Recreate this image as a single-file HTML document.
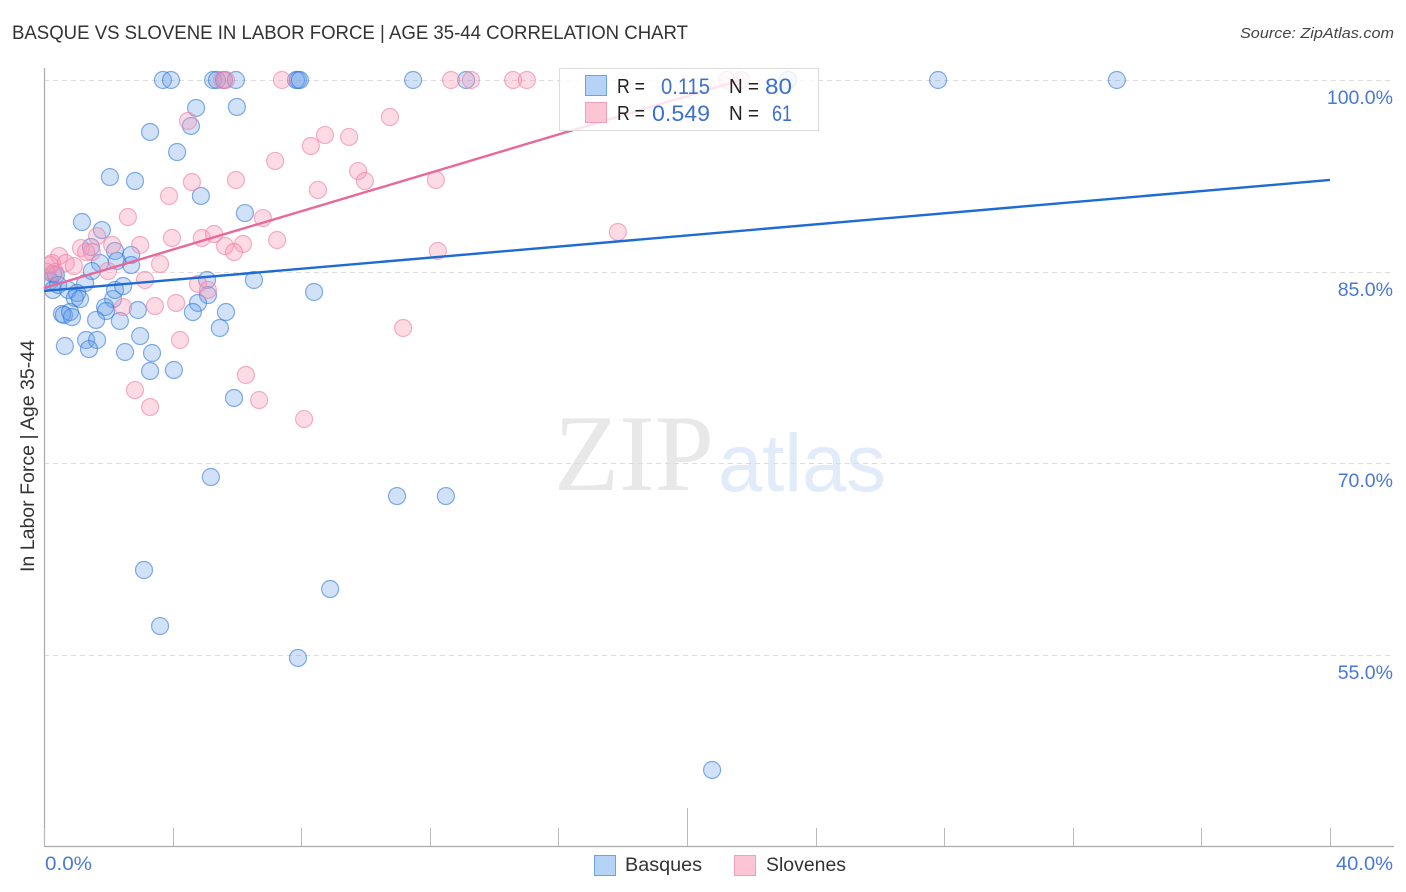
<!DOCTYPE html>
<html lang="en">
<head>
<meta charset="utf-8">
<title>Basque vs Slovene in Labor Force | Age 35-44 Correlation Chart</title>
<style>
html,body{margin:0;padding:0;background:#fff;}
body{width:1406px;height:892px;overflow:hidden;}
svg{display:block;font-family:"Liberation Sans",sans-serif;}
</style>
</head>
<body>
<svg id="chart" width="1406" height="892" viewBox="0 0 1406 892" xmlns="http://www.w3.org/2000/svg">
  <defs>
    <clipPath id="plot-clip"><rect x="45" y="60" width="1350" height="786"/></clipPath>
    <filter id="soften" x="-5%" y="-5%" width="110%" height="110%"><feGaussianBlur stdDeviation="0.35"/></filter>
  </defs>
  <rect x="0" y="0" width="1406" height="892" fill="#fff"/>
  <text x="12" y="39" font-size="19" fill="#333" textLength="676" lengthAdjust="spacingAndGlyphs">BASQUE VS SLOVENE IN LABOR FORCE | AGE 35-44 CORRELATION CHART</text>
  <text x="1394" y="38" font-size="15" font-style="italic" fill="#444" text-anchor="end" textLength="154" lengthAdjust="spacingAndGlyphs">Source: ZipAtlas.com</text>
  <g>
    <text x="554" y="490" font-size="109" fill="#e8e8e8" font-family="'Liberation Serif',serif" textLength="160" lengthAdjust="spacingAndGlyphs">ZIP</text>
    <text x="718" y="491" font-size="82" fill="#e2ebf9" font-family="'Liberation Sans',sans-serif" textLength="168" lengthAdjust="spacingAndGlyphs">atlas</text>
  </g>
  <g id="grid"></g>
  <g id="axes"></g>
  <g id="series-basques" clip-path="url(#plot-clip)"></g>
  <g id="series-slovenes" clip-path="url(#plot-clip)"></g>
  <g id="trends"></g>
  <text x="34" y="456" font-size="19.5" fill="#333" text-anchor="middle" textLength="232" lengthAdjust="spacingAndGlyphs" transform="rotate(-90 34 456)">In Labor Force | Age 35-44</text>
  <g>
    <rect x="559.5" y="68.5" width="259" height="62" fill="#fff" fill-opacity="0.82" stroke="#dcdcdc"/>
    <rect x="585.5" y="75.5" width="21" height="20" fill="#b5d3f7" stroke="#6fa3e0"/>
    <rect x="585.5" y="102.5" width="21" height="20" fill="#fcc5d6" stroke="#f0a0ba"/>
    <text x="617" y="93" font-size="20" fill="#222" textLength="28" lengthAdjust="spacingAndGlyphs">R =</text>
    <text x="710" y="94" font-size="22" fill="#3c70d0" text-anchor="end" textLength="49" lengthAdjust="spacingAndGlyphs">0.115</text>
    <text x="729" y="93" font-size="20" fill="#222" textLength="30" lengthAdjust="spacingAndGlyphs">N =</text>
    <text x="792" y="94" font-size="22" fill="#3c70d0" text-anchor="end" textLength="27" lengthAdjust="spacingAndGlyphs">80</text>
    <text x="617" y="120" font-size="20" fill="#222" textLength="28" lengthAdjust="spacingAndGlyphs">R =</text>
    <text x="710" y="121" font-size="22" fill="#3c70d0" text-anchor="end" textLength="58" lengthAdjust="spacingAndGlyphs">0.549</text>
    <text x="729" y="120" font-size="20" fill="#222" textLength="30" lengthAdjust="spacingAndGlyphs">N =</text>
    <text x="792" y="121" font-size="22" fill="#3c70d0" text-anchor="end" textLength="20" lengthAdjust="spacingAndGlyphs">61</text>
  </g>
  <g>
    <rect x="594.5" y="855.5" width="21" height="20" fill="#b5d3f7" stroke="#6fa3e0"/>
    <text x="625" y="871" font-size="19.5" fill="#333" textLength="77" lengthAdjust="spacingAndGlyphs">Basques</text>
    <rect x="734.5" y="855.5" width="21" height="20" fill="#fcc5d6" stroke="#f0a0ba"/>
    <text x="766" y="871" font-size="19.5" fill="#333" textLength="80" lengthAdjust="spacingAndGlyphs">Slovenes</text>
  </g>
</svg>
<script>
const yTickValues = [100, 85, 70, 55];
const yTickLabels = ["100.0%", "85.0%", "70.0%", "55.0%"];
const xEdgeTickValues = [0, 40];
const xEdgeTickLabels = ["0.0%", "40.0%"];
const xMinorTicks = [0, 4, 8, 12, 16, 20, 24, 28, 32, 36, 40];
const basquesX = [3.70,3.95,5.26,5.38,5.60,5.97,7.84,7.90,7.96,11.48,13.13,23.14,27.81,33.37,
  4.73,6.00,3.30,4.57,4.14,2.05,2.83,4.88,6.25,1.18,1.80,1.46,2.21,2.71,2.27,2.71,1.74,1.49,5.07,6.53,8.40,
  0.28,0.37,0.19,0.28,0.44,0.75,1.28,1.03,0.96,1.12,2.15,2.21,2.46,5.10,4.79,4.63,5.66,5.47,1.90,1.93,2.92,
  0.56,0.62,0.81,0.87,1.62,2.36,2.99,1.31,1.65,0.65,1.40,2.52,3.36,3.30,4.04,5.91,5.19,10.98,12.50,3.11,8.90,3.61,7.90,20.78];
const basquesY = [100,100,100,100,100,100,100,100,100,100,100,100,100,100,
  97.81,97.89,95.93,96.40,94.36,92.40,92.09,90.92,89.58,88.88,88.25,86.92,86.61,86.30,85.83,85.51,85.67,85.04,84.34,84.34,83.40,
  84.81,84.73,84.26,83.56,83.95,83.56,84.10,83.32,82.93,82.85,82.85,83.56,83.87,83.16,82.54,81.83,81.83,80.58,82.22,81.91,81.99,
  81.68,81.60,81.83,81.44,81.21,81.13,79.95,79.64,79.64,79.17,78.93,78.70,78.62,77.21,77.29,75.10,68.91,67.42,67.42,61.63,60.14,57.24,54.74,45.97];
const slovenesX = [5.54,5.66,7.40,12.66,13.28,14.59,15.02,21.24,21.68,
  4.48,10.76,8.74,9.49,8.30,7.19,9.77,9.98,4.60,5.97,8.52,3.89,12.19,2.61,6.81,17.85,1.65,3.98,4.91,5.29,7.25,6.19,5.63,5.91,
  2.99,2.12,1.15,1.49,1.31,12.25,0.47,0.25,0.68,0.93,3.61,0.34,1.99,3.14,4.79,5.10,2.46,3.45,4.11,11.17,4.23,6.28,2.83,3.30,6.69,8.09,0.19,0.06];
const slovenesY = [100,100,100,100,100,100,100,100,100,
  96.79,97.10,95.69,95.54,94.83,93.66,92.87,92.09,92.01,92.17,91.39,90.92,92.17,89.27,89.19,88.10,87.78,87.63,87.63,87.94,87.47,87.16,87.00,86.53,
  87.08,87.08,86.84,86.53,86.53,86.61,86.22,85.67,85.67,85.43,85.59,84.96,85.04,84.34,84.03,83.56,82.22,82.30,82.54,80.58,79.64,76.90,75.72,74.39,74.94,73.45,85.5,85.0];
const basquesTrendX = [0, 40];
const basquesTrendY = [83.48, 92.17];
const slovenesTrendX = [0, 21.68];
const slovenesTrendY = [83.71, 100];

const NS = "http://www.w3.org/2000/svg";
const xScale = v => 44 + v * 32.15;
const yScale = v => 80 + (100 - v) * 12.77;

function make(tag, attrs, parent, text) {
  const el = document.createElementNS(NS, tag);
  for (const k in attrs) el.setAttribute(k, attrs[k]);
  if (text !== undefined) el.textContent = text;
  parent.appendChild(el);
  return el;
}

const gridGroup = document.getElementById("grid");
const axesGroup = document.getElementById("axes");

yTickValues.forEach((v, i) => {
  const py = Math.round(yScale(v)) + 0.5;
  const line = make("line", {x1: 44, x2: 1393, y1: py, y2: py, stroke: "#dcdcdc", "stroke-width": 1, "stroke-dasharray": "5 4"}, gridGroup);
  
  
  const label = make("text", {x: 1393, y: py + 23.5, "font-size": 19.5, fill: "#4a78d6", "text-anchor": "end"}, axesGroup, yTickLabels[i]);
  
  
});

const yAxis = make("line", {x1: 44.5, x2: 44.5, y1: 68, y2: 846, stroke: "#aaa", "stroke-width": 1.2}, axesGroup);


const xAxis = make("line", {x1: 44, x2: 1394, y1: 846.5, y2: 846.5, stroke: "#aaa", "stroke-width": 1.2}, axesGroup);



xMinorTicks.forEach(v => {
  const px = Math.round(xScale(v)) + 0.5;
  const top = v === 20 ? 808 : 828;
  const tick = make("line", {x1: px, x2: px, y1: top, y2: 846, stroke: "#bbb", "stroke-width": 1}, axesGroup);
  
  
});

xEdgeTickValues.forEach((v, i) => {
  const first = i === 0;
  const label = make("text", {x: first ? xScale(v) + 1 : xScale(v) + 6, y: 870, "font-size": 19.5, fill: "#4a78d6", textLength: first ? 47 : 57, lengthAdjust: "spacingAndGlyphs"}, axesGroup, xEdgeTickLabels[i]);
  
  
});

function drawPoints(groupId, xs, ys, fill, stroke) {
  const group = document.getElementById(groupId);
  const inner = make("g", {filter: "url(#soften)"}, group);
  
  
  xs.forEach((x, i) => {
    const c = make("circle", {cx: xScale(x), cy: yScale(ys[i]), r: 8.5, fill: fill, stroke: stroke, "stroke-width": 1.2}, inner);
    
    
  });
}
drawPoints("series-basques", basquesX, basquesY, "rgba(96,156,232,0.29)", "rgba(50,120,215,0.6)");
drawPoints("series-slovenes", slovenesX, slovenesY, "rgba(248,150,180,0.34)", "rgba(238,125,165,0.6)");

const trendGroup = document.getElementById("trends");
const blueLine = make("line", {x1: xScale(basquesTrendX[0]), y1: yScale(basquesTrendY[0]), x2: xScale(basquesTrendX[1]), y2: yScale(basquesTrendY[1]), stroke: "#1f6bd6", "stroke-width": 2.4}, trendGroup);


const pinkLine = make("line", {x1: xScale(slovenesTrendX[0]), y1: yScale(slovenesTrendY[0]), x2: xScale(slovenesTrendX[1]), y2: yScale(slovenesTrendY[1]), stroke: "#e8689a", "stroke-width": 2.4}, trendGroup);


</script>
</body>
</html>
